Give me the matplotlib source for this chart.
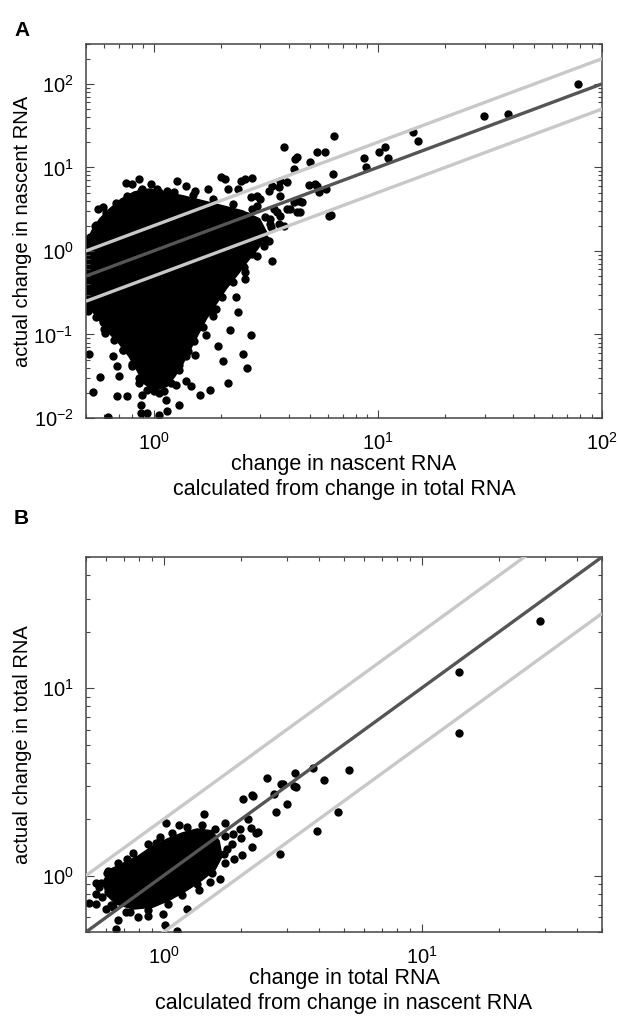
import numpy as np
import matplotlib
matplotlib.use('Agg')
import matplotlib.pyplot as plt
from matplotlib.ticker import LogLocator, NullFormatter

plt.rcParams['font.family'] = ['Liberation Sans', 'DejaVu Sans']
plt.rcParams['mathtext.default'] = 'regular'

# reference lines y = k * x
fold = [0.5, 1.0, 2.0]
fold_colors = ['#c8c8c8', '#555555', '#c8c8c8']

# ---- panel A (values are log10) ----
# outline of the saturated core of the cloud
a_core_lx = [-0.301, -0.274, -0.239, -0.195, -0.143, -0.086, -0.020, 0.046, 0.134, 0.222,
             0.310, 0.397, 0.472, 0.507, 0.463, 0.419, 0.376, 0.323, 0.279, 0.235,
             0.200, 0.165, 0.130, 0.094, 0.059, 0.002, -0.042, -0.072, -0.108, -0.152,
             -0.195, -0.239, -0.274, -0.301]
a_core_ly = [0.083, 0.238, 0.381, 0.500, 0.619, 0.702, 0.738, 0.702, 0.655, 0.595,
             0.536, 0.476, 0.381, 0.202, 0.024, -0.119, -0.274, -0.452, -0.631, -0.810,
             -0.988, -1.167, -1.345, -1.500, -1.619, -1.667, -1.583, -1.429, -1.262, -1.107,
             -0.988, -0.833, -0.714, -0.667]
# single points around the core
a_lx = [0.529, 0.463, 0.367, 0.376, 0.340, 0.433, 0.397, 0.419, 0.332, 0.288,
        0.310, 0.253, 0.209, 0.169, 0.143, 0.112, 0.055, 0.046, 0.059, 0.024,
        -0.055, -0.029, -0.055, -0.051, -0.064, -0.116, -0.165, -0.204, -0.270, -0.239,
        -0.288, -0.182, -0.165, -0.138, -0.094, -0.152, -0.217, -0.226, -0.270, -0.296,
        0.235, 0.187, 0.156, 0.112, 0.279, 0.266, 0.231, 0.209, 0.191, 0.024,
        -0.011, 0.033, 0.002, 0.099, 0.068,
        0.582, 0.648, 0.652, 0.784, 0.582, 0.630, 0.301, 0.318, 0.389, 0.441,
        0.103, -0.064, -0.121, -0.094, -0.011, 0.143, 0.187, 0.244, 0.332, 0.376,
        0.516, 0.560, 0.433, 0.477, -0.226, -0.248, -0.261, -0.296, -0.165, 0.059,
        -0.051, 0.024, 0.538, 0.564, 0.608, 0.520, 0.463, 0.494, 0.806, 0.731,
        0.766, 0.696, 0.626, 0.801, 0.938, 1.004, 1.034, 1.047, 1.157, 1.179,
        0.947, 0.793, 0.692, 0.727, 0.771, 0.736, 0.639, 0.626, 0.661, 0.564,
        0.595, 0.529, 0.564, 0.595, 0.551, 0.520, 0.560, 0.498, 0.441, 0.433,
        0.463, 0.463, 0.406, 0.419, 0.406, 0.406, 1.895, 1.473, 1.579, 0.639, 0.718,
        0.441, 0.402, 0.354, 0.305, 0.262, 0.222, 0.182, 0.147, 0.112, 0.077,
        0.024, -0.029, -0.064, -0.094, -0.134, -0.178, -0.222, -0.257, -0.292,
        -0.283, -0.257, -0.213, -0.169, -0.116, -0.055, 0.015, 0.090, 0.178, 0.266,
        0.354, 0.441, 0.498, 0.525, 0.516]
a_ly = [-0.119, -0.060, -0.548, -0.726, -0.952, -1.012, -1.238, -1.405, -1.583, -1.143,
        -1.321, -1.667, -1.726, -1.619, -1.560, -1.845, -1.786, -1.679, -1.917, -1.964,
        -1.940, -1.940, -1.845, -1.726, -1.583, -1.738, -1.738, -1.990, -1.690, -1.512,
        -1.238, -1.262, -1.381, -1.190, -1.381, -1.500, -0.988, -0.845, -0.667, -0.655,
        -1.012, -1.250, -1.202, -1.369, -0.690, -0.774, -0.714, -0.833, -0.929, -1.250,
        -1.500, -1.560, -1.679, -1.607, -1.440,
        0.298, 0.595, 0.464, 0.417, 1.250, 1.095, 0.881, 0.857, 0.833, 0.869,
        0.833, 0.857, 0.810, 0.798, 0.798, 0.774, 0.714, 0.738, 0.738, 0.738,
        0.714, 0.762, 0.643, 0.619, 0.524, 0.500, 0.298, 0.143, 0.524, 0.714,
        0.738, 0.702, 0.500, 0.417, 0.500, 0.321, 0.179, 0.060, 1.381, 1.190,
        1.190, 1.060, 0.976, 0.917, 1.107, 1.179, 1.250, 1.107, 1.429, 1.310,
        1.000, 0.429, 0.786, 0.774, 0.738, 0.702, 0.464, 0.583, 0.583, 0.833,
        0.821, 0.774, 0.655, 0.500, 0.464, 0.381, 0.321, 0.143, 0.107, 0.262,
        0.536, 0.655, 0.857, 0.417, -0.250, -0.333, 2.000, 1.619, 1.643, 1.119, 0.798,
        -0.036, -0.190, -0.369, -0.548, -0.726, -0.905, -1.083, -1.262, -1.429, -1.583,
        -1.702, -1.667, -1.524, -1.357, -1.190, -1.071, -0.929, -0.786, -0.714,
        0.167, 0.310, 0.452, 0.571, 0.655, 0.714, 0.738, 0.702, 0.667, 0.619,
        0.560, 0.500, 0.405, 0.286, 0.119]

# ---- panel B (log10) ----
b_core_lx = [-0.233, -0.206, -0.156, -0.099, -0.042, 0.015, 0.073, 0.130, 0.187, 0.214,
             0.225, 0.198, 0.149, 0.092, 0.023, -0.042, -0.118, -0.183, -0.221]
b_core_ly = [-0.032, 0.032, 0.065, 0.102, 0.156, 0.194, 0.226, 0.247, 0.237, 0.183,
             0.102, 0.032, -0.022, -0.075, -0.129, -0.167, -0.177, -0.151, -0.102]
b_lx = [0.580, 0.622, 0.508, 0.462, 0.504, 0.427, 0.477, 0.435, 0.401, 0.344,
        0.309, 0.595, 0.450, 0.676, 0.718, 0.156, 0.008, 0.061, 0.237, 0.328,
        0.340, 0.294, 0.366, 0.267, 0.298, 0.263, 0.344, 0.305, 0.233, 0.271,
        0.218, 0.122, -0.031, -0.141, -0.214, -0.263, -0.244, -0.263, -0.290, -0.263,
        -0.225, -0.206, -0.176, -0.183, -0.099, -0.061, 0.004, 0.050, -0.004, 0.092,
        0.137, 0.179, -0.149, -0.214, 1.458, 1.145, 1.145, 0.511, 0.347, 0.454,
        0.359, -0.145,
        -0.061, -0.015, 0.034, 0.092, 0.149, 0.198, 0.237, 0.244, 0.237, 0.187,
        0.130, 0.073, 0.015, -0.061, -0.130, -0.195, -0.240, -0.252, -0.221, -0.176,
        -0.118]
b_ly = [0.575, 0.511, 0.548, 0.489, 0.478, 0.435, 0.382, 0.339, 0.522, 0.430,
        0.409, 0.237, 0.113, 0.339, 0.565, 0.328, 0.280, 0.269, 0.280, 0.301,
        0.253, 0.247, 0.231, 0.220, 0.199, 0.167, 0.151, 0.108, 0.113, 0.086,
        -0.016, 0.226, 0.172, 0.086, 0.022, -0.038, -0.038, -0.097, -0.145, -0.151,
        -0.177, -0.156, -0.237, -0.285, -0.220, -0.215, -0.263, -0.295, -0.204, -0.177,
        -0.075, -0.032, -0.124, -0.086, 1.355, 1.086, 0.758, 0.473, 0.425, 0.489,
        0.226, -0.194,
        0.167, 0.204, 0.226, 0.258, 0.269, 0.247, 0.210, 0.140, 0.065, 0.011,
        -0.043, -0.102, -0.151, -0.183, -0.194, -0.167, -0.113, -0.059, 0.011, 0.065,
        0.118]

panels = [
    dict(core=(a_core_lx, a_core_ly), pts=(a_lx, a_ly), xlim=(0.5, 100), ylim=(0.01, 300),
         rect=[86 / 620, 1 - 418 / 1016, 516 / 620, 374 / 1016], tag='A', tag_y=1 - 30 / 1016,
         xlabel='change in nascent RNA\ncalculated from change in total RNA',
         ylabel='actual change in nascent RNA'),
    dict(core=(b_core_lx, b_core_ly), pts=(b_lx, b_ly), xlim=(0.5, 50), ylim=(0.5, 50),
         rect=[86 / 620, 1 - 932 / 1016, 516 / 620, 375 / 1016], tag='B', tag_y=1 - 518 / 1016,
         xlabel='change in total RNA\ncalculated from change in nascent RNA',
         ylabel='actual change in total RNA'),
]

fig = plt.figure(figsize=(6.2, 10.16), dpi=100)
for p in panels:
    ax = fig.add_axes(p['rect'])
    ax.set_xscale('log')
    ax.set_yscale('log')
    cx = 10 ** np.array(p['core'][0])
    cy = 10 ** np.array(p['core'][1])
    ax.fill(cx, cy, color='black', lw=1.5, zorder=1)
    px = 10 ** np.array(p['pts'][0])
    py = 10 ** np.array(p['pts'][1])
    ax.plot(px, py, 'o', color='black', ms=6.0, mew=0, zorder=2)
    xs = np.array(p['xlim'])
    for k, c in zip(fold, fold_colors):
        ax.plot(xs, k * xs, color=c, lw=2.4, zorder=3, solid_capstyle='butt')
    ax.set_xlim(*p['xlim'])
    ax.set_ylim(*p['ylim'])
    for axis in (ax.xaxis, ax.yaxis):
        axis.set_major_locator(LogLocator(base=10, numticks=12))
        axis.set_minor_locator(LogLocator(base=10, subs=np.arange(2, 10), numticks=12))
        axis.set_minor_formatter(NullFormatter())
    ax.tick_params(which='both', direction='in', top=True, right=True,
                   color='#444444', width=0.8, labelsize=14.5)
    ax.tick_params(which='major', length=6)
    ax.tick_params(which='minor', length=3)
    ax.tick_params(axis='x', which='major', pad=10)
    ax.tick_params(axis='y', which='major', pad=9)
    for s in ax.spines.values():
        s.set_color('#444444')
        s.set_linewidth(1.1)
    ax.set_xlabel(p['xlabel'], fontsize=15.5, linespacing=1.25)
    ax.xaxis.set_label_coords(0.5, -0.096)
    ax.set_ylabel(p['ylabel'], fontsize=14.5)
    ax.yaxis.set_label_coords(-0.104, 0.5)
    fig.text(14 / 620, p['tag_y'], p['tag'], fontsize=15, fontweight='bold', va='center')

fig.savefig('out.png', dpi=100)
